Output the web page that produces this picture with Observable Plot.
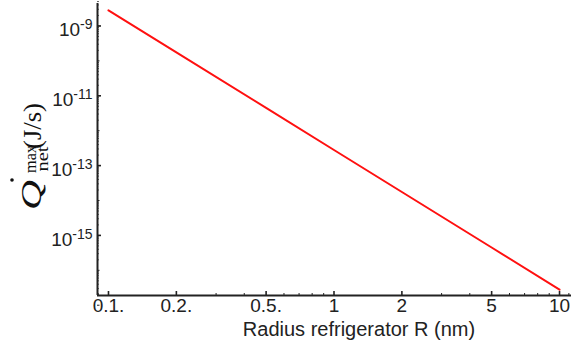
<!DOCTYPE html>
<html><head><meta charset="utf-8">
<script src="https://cdn.jsdelivr.net/npm/d3@7"></script>
<script src="https://cdn.jsdelivr.net/npm/@observablehq/plot@0.6"></script>
<style>body{margin:0;background:#fff}</style>
</head><body><div id="chart"></div>
<script>
// data (log–log straight line)
const radius = [0.1, 0.2, 0.5, 1, 2, 5, 10];
const qmax = [2.8e-9, 1.75e-10, 4.5e-12, 2.8e-13, 1.75e-14, 4.5e-16, 2.8e-17];

// ticks
const xMajor = [0.1, 0.2, 0.5, 1, 2, 5, 10];
const xLabels = ["0.1.", "0.2.", "0.5.", "1", "2", "5", "10"];
const xMinor = [0.09, 0.3, 0.4, 0.6, 0.7, 0.8, 0.9, 3, 4, 6, 7, 8, 9, 11];
const yLabeled = [1e-9, 1e-11, 1e-13, 1e-15];
const yLabelText = ["10^-9", "10^-11", "10^-13", "10^-15"];
const yDecades = [1e-9, 1e-10, 1e-11, 1e-12, 1e-13, 1e-14, 1e-15, 1e-16, 1e-17];
const yMinor = [];
for (const d of yDecades) for (const m of [2, 3, 4, 5, 6, 7, 8, 9]) yMinor.push(m * d);

const xDomain = [0.0894, 11.3];
const yDomain = [1.9e-17, 4.4e-9];

const data = radius.map((r, i) => ({r, q: qmax[i]}));
const axisColor = "#222";

const chart = Plot.plot({
  width: 572,
  height: 353,
  marginLeft: 97,
  marginRight: 1,
  marginTop: 3,
  marginBottom: 58,
  style: {fontFamily: "'Liberation Sans', Arial, sans-serif", background: "#fff", color: axisColor},
  x: {type: "log", domain: xDomain, axis: null},
  y: {type: "log", domain: yDomain, axis: null},
  marks: [
    Plot.line(data, {x: "r", y: "q", stroke: "#ff1010", strokeWidth: 2}),
    // x ticks (inward)
    Plot.axisX(xMajor, {tickSize: -4, tickFormat: () => "", label: null, stroke: axisColor, strokeWidth: 1.6}),
    Plot.axisX(xMinor, {tickSize: -2, tickFormat: () => "", label: null, stroke: axisColor}),
    Plot.text(xMajor, {x: d => d, text: (d, i) => xLabels[i], frameAnchor: "bottom", dy: 16, fontSize: 19, fill: axisColor}),
    // y ticks (inward)
    Plot.axisY(yLabeled, {tickSize: -4, tickFormat: () => "", label: null, stroke: axisColor, strokeWidth: 1.6}),
    Plot.axisY(yDecades, {tickSize: -2.5, tickFormat: () => "", label: null, stroke: axisColor}),
    Plot.axisY(yMinor, {tickSize: -2, tickFormat: () => "", label: null, stroke: axisColor, strokeOpacity: 0.7}),
    Plot.text(yLabeled, {y: d => d, text: (d, i) => yLabelText[i], frameAnchor: "left", textAnchor: "end",
      dx: -5, dy: 4, fontSize: 19, fill: axisColor}),
    // axis lines
    Plot.ruleX([xDomain[0]], {stroke: axisColor, strokeWidth: 2}),
    Plot.ruleY([yDomain[0]], {stroke: axisColor, strokeWidth: 2}),
    // x axis title
    Plot.text(["Radius refrigerator R (nm)"], {frameAnchor: "bottom", dx: 24.5, dy: 40.5, fontSize: 20, fill: axisColor})
  ]
});

document.getElementById("chart").appendChild(chart);

// superscripts for y tick labels
d3.select(chart).selectAll("text").each(function () {
  const t = this.textContent;
  const m = /^10\^(-?\d+)$/.exec(t);
  if (!m) return;
  const sel = d3.select(this);
  sel.text(null);
  sel.append("tspan").text("10");
  sel.append("tspan").attr("dy", "-0.5em").attr("font-size", "14").text(m[1]);
});

// y axis title: Q̇ with sub "net" and sup "max", then (J/s)
const svg = d3.select(chart);
const g = svg.append("g").attr("transform", "rotate(-90)")
  .attr("font-family", "'Liberation Serif', 'DejaVu Serif', serif").attr("fill", "#111");
// local x = -screenY, local y = screenX
g.append("text").attr("x", -195).attr("y", 41).attr("font-size", 29).attr("font-style", "italic")
  .attr("textLength", 30).attr("lengthAdjust", "spacingAndGlyphs").text("Q");
g.append("circle").attr("cx", -180).attr("cy", 12).attr("r", 1.8).attr("fill", "#111");
g.append("text").attr("x", -159).attr("y", 36).attr("font-size", 16)
  .attr("textLength", 28).attr("lengthAdjust", "spacingAndGlyphs").text("max");
g.append("text").attr("x", -159).attr("y", 48).attr("font-size", 16)
  .attr("textLength", 25).attr("lengthAdjust", "spacingAndGlyphs").text("net");
g.append("text").attr("x", -126).attr("y", 41).attr("font-size", 26)
  .attr("textLength", 46).attr("lengthAdjust", "spacingAndGlyphs").text("(J/s)");
</script>
</body></html>
